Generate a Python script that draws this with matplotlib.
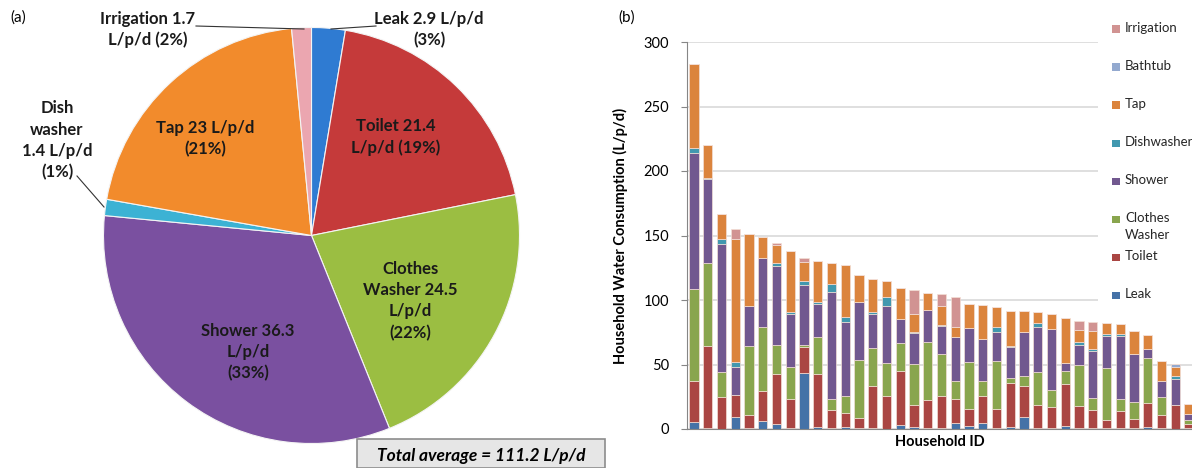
import matplotlib.pyplot as plt
from matplotlib.patches import Rectangle
import numpy as np

plt.rcParams['font.family'] = ['Lato', 'DejaVu Sans']

# ---- (a) average end use, L/p/d (clockwise from 12 o'clock)
pie_names = ['Leak', 'Toilet', 'Clothes Washer', 'Shower', 'Dish washer', 'Tap', 'Irrigation']
pie_values = [2.9, 21.4, 24.5, 36.3, 1.4, 23.0, 1.7]
pie_pct = [3, 19, 22, 33, 1, 21, 2]
pie_colors = ['#2F7BD2', '#C53A3A', '#9BBE42', '#7A50A0', '#3CB2D4', '#F28B2C', '#EBA6B0']
total_avg = 111.2

# ---- (b) per household end use, L/p/d
leak = [5.2, 1.0, 0.3, 9.5, 0.5, 5.9, 3.6, 0.8, 43.4, 1.5, 1.0, 1.3, 1.1, 0.8, 0.3, 2.8, 1.3, 0.6, 0.9,
        4.4, 2.2, 4.9, 0.5, 1.8, 9.1, 0.5, 0.5, 2.3, 1.0, 1.0, 1.0, 1.0, 1.0, 1.3, 1.0, 0.0, 1.0]
toilet = [32.2, 63.7, 24.2, 16.5, 10.5, 23.7, 38.7, 22.2, 20.4, 40.8, 13.6, 11.2, 7.7, 32.2, 25.5, 41.9, 17.0,
          22.1, 24.9, 19.0, 13.6, 20.9, 14.7, 34.1, 24.0, 17.8, 16.8, 32.2, 17.1, 14.0, 6.2, 13.0, 6.8, 19.1,
          10.1, 18.6, 2.9]
clothes = [70.8, 63.7, 19.3, 0.5, 53.7, 49.8, 22.6, 25.2, 1.3, 29.0, 8.6, 13.4, 44.4, 30.1, 25.6, 21.7, 31.8,
           44.5, 32.1, 13.9, 36.2, 11.3, 37.6, 3.6, 8.2, 25.6, 12.9, 10.5, 31.5, 9.3, 40.3, 9.5, 12.9, 34.6,
           13.7, 0.0, 3.1]
shower = [105.5, 65.4, 99.8, 21.4, 30.9, 53.3, 61.6, 41.2, 46.6, 25.9, 82.8, 56.9, 45.5, 26.1, 44.2, 18.9,
          24.1, 25.0, 21.7, 34.2, 26.1, 32.8, 22.5, 24.1, 34.1, 35.4, 47.6, 5.8, 15.3, 36.4, 24.6, 48.5, 37.1,
          6.8, 12.7, 19.9, 4.4]
dishwasher = [4.3, 0.5, 3.8, 3.9, 0.0, 0.0, 2.0, 1.1, 3.0, 1.5, 6.1, 4.1, 0.0, 1.8, 7.0, 0.0, 0.8, 0.4, 1.0,
              0.0, 0.0, 0.0, 3.8, 1.0, 0.0, 3.1, 0.0, 0.0, 2.3, 1.3, 1.8, 1.9, 0.0, 0.0, 0.0, 2.6, 0.0]
tap = [64.7, 25.8, 19.6, 95.3, 55.2, 16.5, 14.4, 47.3, 15.0, 31.8, 16.8, 40.5, 20.4, 25.0, 12.1, 24.2, 14.2,
       13.2, 15.0, 7.6, 18.7, 26.5, 15.5, 27.2, 16.3, 8.0, 11.1, 35.0, 9.3, 14.2, 8.3, 7.6, 18.2, 11.1, 15.0,
       6.7, 8.0]
bathtub = [0] * 35 + [2.6, 0]
irrigation = [0, 0, 0, 8.0, 0, 0, 1.6, 0, 2.8, 0, 0, 0, 0, 0, 0, 0, 18.7, 0, 8.7, 23.5, 0, 0, 0, 0, 0, 0, 0,
              0, 7.2, 6.5, 0, 0, 0, 0, 0, 0, 0]

stack_names = ['Leak', 'Toilet', 'Clothes\nWasher', 'Shower', 'Dishwasher', 'Tap', 'Bathtub', 'Irrigation']
stack_data = [leak, toilet, clothes, shower, dishwasher, tap, bathtub, irrigation]
stack_colors = ['#4572A7', '#AA4643', '#89A54E', '#71588F', '#4198AF', '#DB843D', '#93A9CF', '#D19392']

W, H = 1192, 468
fig = plt.figure(figsize=(W / 100, H / 100), dpi=100)


def fx(px):
    return px / W


def fy(py):
    return 1 - py / H


# ---------------- pie
axp = fig.add_axes([0, 0, 600 / W, 1])
axp.pie(pie_values, colors=pie_colors, startangle=90, counterclock=False,
        center=(311.5, H - 235.5), radius=208,
        wedgeprops=dict(edgecolor='#f4f4f4', linewidth=0.8))
axp.set_xlim(0, 600)
axp.set_ylim(0, H)
axp.set_aspect('auto')
axp.axis('off')

pie_text = [
    ('Leak 2.9 L/p/d\n(3%)', 429, 29.5),
    ('Toilet 21.4\nL/p/d (19%)', 396, 137),
    ('Clothes\nWasher 24.5\nL/p/d\n(22%)', 410, 301),
    ('Shower 36.3\nL/p/d\n(33%)', 248, 352),
    ('Dish\nwasher\n1.4 L/p/d\n(1%)', 57, 140.5),
    ('Tap 23 L/p/d\n(21%)', 205, 138.5),
    ('Irrigation 1.7\nL/p/d (2%)', 148, 29.5),
]
for s, x, y in pie_text:
    axp.text(x, H - y, s, ha='center', va='center', fontsize=12, fontweight='bold',
             color='#1a1a1a', linespacing=1.4)

# leader lines
axp.plot([376, 331], [H - 26, H - 29], color='#333333', lw=0.8)
axp.plot([196, 304], [H - 26, H - 29], color='#333333', lw=0.8)
axp.plot([77, 104], [H - 176, H - 207], color='#333333', lw=0.8)

fig.text(fx(18), fy(18), '(a)', fontsize=11, ha='center', va='center')

fig.add_artist(Rectangle((fx(357), 0), fx(605) - fx(357), fy(439), transform=fig.transFigure,
                         facecolor='#E6E6E6', edgecolor='#8C8C8C', lw=1.2, zorder=3))
fig.text(fx(481), fy(456), 'Total average = %.1f L/p/d' % total_avg, fontsize=12.5,
         fontweight='bold', style='italic', ha='center', va='center', zorder=4)

# ---------------- stacked bars
axb = fig.add_axes([fx(687), fy(429), (1192 - 687) / W, (429 - 42) / H])
x = np.arange(len(leak))
bottom = np.zeros(len(leak))
for name, vals, c in zip(stack_names, stack_data, stack_colors):
    vals = np.array(vals, dtype=float)
    axb.bar(x, vals, width=0.66, bottom=bottom, color=c, edgecolor='#f3dfd6', linewidth=0.5,
            label=name)
    bottom += vals

axb.set_xlim(-0.51, 36.22)
axb.set_ylim(0, 300)
axb.set_yticks(np.arange(0, 301, 50))
axb.set_xticks([])
axb.yaxis.grid(True, color='#D9D9D9', lw=1.2)
axb.set_axisbelow(True)
for sp in ['top', 'right']:
    axb.spines[sp].set_visible(False)
for sp in ['left', 'bottom']:
    axb.spines[sp].set_color('#868686')
axb.tick_params(axis='y', direction='out', length=4, color='#868686', labelsize=10.5, pad=9)
axb.set_ylabel('Household Water Consumption (L/p/d)', fontsize=10.5, fontweight='bold')
axb.yaxis.set_label_coords(-(687 - 628) / 505, 0.5)
axb.set_xlabel('Household ID', fontsize=10.5, fontweight='bold')
axb.xaxis.set_label_coords(0.5, -(442 - 429) / 387)
axb.xaxis.label.set_va('center')

fig.text(fx(627), fy(18), '(b)', fontsize=11, ha='center', va='center')

# legend (Excel style, fixed row spacing)
fig.add_artist(Rectangle((fx(1098), fy(312)), fx(1192) - fx(1098), fy(8) - fy(312),
                         transform=fig.transFigure, facecolor='white', edgecolor='none', zorder=2))
for i, (name, c) in enumerate(zip(stack_names[::-1], stack_colors[::-1])):
    yc = 29 + 38.1 * i
    fig.add_artist(Rectangle((fx(1112), fy(yc + 3.7)), 7.5 / W, 7.5 / H, transform=fig.transFigure,
                             facecolor=c, edgecolor='none', zorder=3))
    fig.text(fx(1125), fy(yc - 7.5), name, fontsize=9.5, ha='left', va='top', linespacing=1.5,
             color='#262626', zorder=3)

fig.savefig('out.png', dpi=100)
